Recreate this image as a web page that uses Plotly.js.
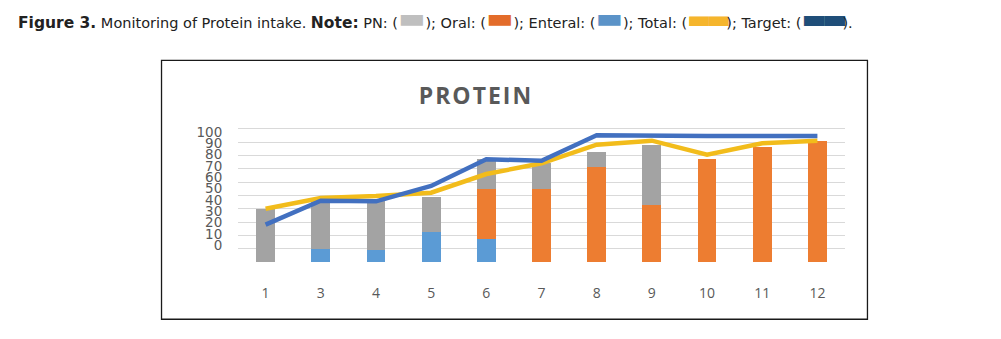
<!DOCTYPE html>
<html>
<head>
<meta charset="utf-8">
<script src="https://cdn.plot.ly/plotly-3.0.1.min.js"></script>
<style>html,body{margin:0;padding:0;background:#fff;}#chart{width:1001px;height:339px;}</style>
</head>
<body>
<div id="chart"></div>
<script>
// Days (category labels)
const days = ["1","3","4","5","6","7","8","9","10","11","12"];
// Stacked bar components (protein, % of target scale)
const enteral = [0, 10, 9, 22.5, 17.5, 0, 0, 0, 0, 0, 0];
const oral    = [0, 0, 0, 0, 37.5, 55, 71, 42.5, 77.5, 86, 91];
const pn      = [40, 36, 36.5, 26.5, 22.5, 19, 11.5, 45, 0, 0, 0];
// Lines
const total   = [40, 48, 49.5, 52, 66, 74, 88, 91, 80.5, 89, 91];
const target  = [28, 46, 45.5, 57, 77, 76, 95, 94.5, 94.5, 94.5, 94.5];
// Gridline values
const gridVals = [10,20,30,40,50,60,70,80,90,100];
// Y tick labels, as printed (squeezed together in the source image)
const yTickText = ["0","10","20","30","40","50","60","70","80","90","100"];
const yTickPos  = [12.5, 21, 29.5, 38, 46.5, 55, 63.5, 72, 80.5, 89, 97.5];

const labelColor = "#595959";

const traces = [
  {type:"bar", name:"Enteral", x:days, y:enteral, marker:{color:"#5b9bd5"}},
  {type:"bar", name:"Oral", x:days, y:oral, marker:{color:"#ed7d31"}},
  {type:"bar", name:"PN", x:days, y:pn, marker:{color:"#a3a3a3"}},
  {type:"scatter", mode:"lines", name:"Total", x:days, y:total, line:{color:"#f2bc1b", width:4.5}},
  {type:"scatter", mode:"lines", name:"Target", x:days, y:target, line:{color:"#4270c0", width:4.5}}
];

const sw = (c, fs, ch, ls) => "<span style='color:" + c + ";font-size:" + fs + "px;letter-spacing:" + ls + "px'>" + ch + "</span>";
const bold = (t) => "<span style='font-size:15.5px'><b>" + t + "</b></span>";
const caption = bold("Figure 3.") + " Monitoring of Protein intake. " + bold("Note:") + " PN: (" + sw("#bfbfbf", 29, "▬", 0) +
  "); Oral: (" + sw("#e36c2a", 29, "▬", 0) + "); Enteral: (" + sw("#5b93c8", 29, "▬", 0) +
  "); Total: (" + sw("#f5b52c", 26, "▬▬", -5) + "); Target: (" + sw("#1f4e79", 27, "▬▬", -5) + ").";

const layout = {
  width:1001, height:339,
  margin:{l:238, r:156, t:125.6, b:77.3},
  paper_bgcolor:"#ffffff", plot_bgcolor:"#ffffff",
  barmode:"stack", bargap:0.66,
  showlegend:false,
  title:{text:"<span style='letter-spacing:2px'><b>PROTEIN</b></span>", font:{family:"Open Sans", size:23, color:labelColor},
         x:0.392, xref:"paper", xanchor:"center", y:0.717, yref:"container", yanchor:"middle"},
  xaxis:{type:"category", showgrid:false, zeroline:false, showline:false,
         ticks:"outside", ticklen:18, tickcolor:"rgba(0,0,0,0)",
         tickfont:{family:"Open Sans", size:14, color:labelColor}},
  yaxis:{range:[0,102], tickmode:"array", tickvals:yTickPos, ticktext:yTickText,
         showgrid:false, zeroline:false, showline:false,
         ticks:"outside", ticklen:12, tickcolor:"rgba(0,0,0,0)",
         tickfont:{family:"DejaVu Sans", size:13.5, color:labelColor},
         minor:{tickmode:"array", tickvals:gridVals, showgrid:true, gridcolor:"#d9d9d9", gridwidth:1, ticks:""}},
  shapes:[
    {type:"rect", xref:"paper", yref:"paper", x0:-0.126, x1:1.037, y0:-0.421, y1:1.482,
     line:{color:"#1a1a1a", width:1.3}, fillcolor:"rgba(0,0,0,0)", layer:"below"}
  ],
  annotations:[
    {text:caption, xref:"paper", yref:"paper", x:-0.3657, y:1.791, xanchor:"left", yanchor:"middle",
     showarrow:false, font:{family:"DejaVu Sans", size:14.5, color:"#222222"}}
  ]
};

Plotly.newPlot("chart", traces, layout, {displayModeBar:false, staticPlot:true});
</script>
</body>
</html>
